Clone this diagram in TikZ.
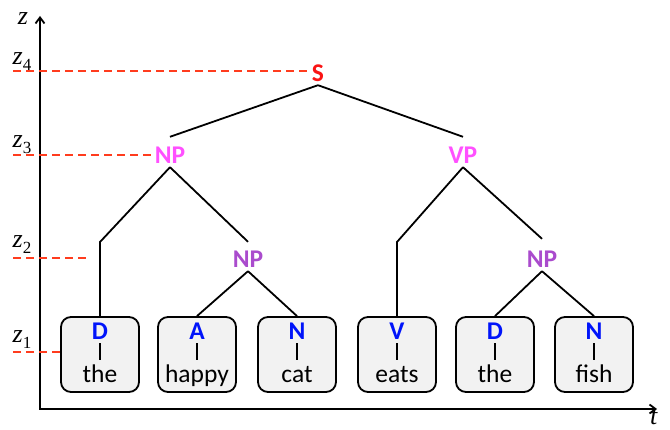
\documentclass[tikz,border=0pt]{standalone}
\usepackage{fontspec}
\setsansfont{Carlito}
\newfontfamily\zfont{Liberation Serif}
\usetikzlibrary{arrows.meta}

\definecolor{sred}{RGB}{250,20,20}
\definecolor{npmag}{RGB}{255,80,255}
\definecolor{nppur}{RGB}{170,75,205}
\definecolor{tagblue}{RGB}{0,20,250}
\definecolor{guidered}{RGB}{255,60,30}
\definecolor{boxgray}{RGB}{242,242,242}

\newcommand{\zlevel}[1]{\textit{z}\raisebox{-6pt}{\fontsize{17}{20}\selectfont #1}}

\tikzset{
  axis/.style={line width=1.8pt, {Straight Barb[length=6pt,width=9pt]}-{Straight Barb[length=6pt,width=9pt]}},
  leafbox/.style={draw, line width=1.8pt, rounded corners=10pt, fill=boxgray,
    minimum width=78pt, minimum height=75pt},
  tag/.style={font=\sffamily\fontsize{25.5}{28}\selectfont\bfseries, text=tagblue,
    inner sep=3.75pt, text height=16.5pt, text depth=0pt},
  word/.style={font=\sffamily\fontsize{25.5}{28}\selectfont,
    inner sep=4pt, text height=19pt, text depth=5.5pt},
  phrase/.style={font=\sffamily\fontsize{25.5}{28}\selectfont\bfseries,
    inner sep=3.75pt, text height=16.5pt, text depth=0pt},
  branch/.style={line width=1.8pt},
  stem/.style={line width=1.8pt},
  guide/.style={draw=guidered, line width=1.8pt, dash pattern=on 8pt off 5pt},
  zlabel/.style={font=\zfont\fontsize{26}{30}\selectfont, inner sep=0pt},
}

\begin{document}
\begin{tikzpicture}[x=1pt,y=-1pt]
\useasboundingbox (0,0) rectangle (670,430);

\coordinate (o) at (40,409);
\coordinate (ztip) at (40,16);
\coordinate (ttip) at (657,409);
\draw[axis] (ztip) -- (o) -- (ttip);
\node[zlabel] (zaxis) at (23,19) {\textit{z}};
\node[zlabel] (taxis) at (654,417) {\textit{t}};

\foreach \i/\x/\tg/\wrd in {1/100/D/the, 2/197/A/happy, 3/297/N/cat,
    4/397/V/eats, 5/495/D/the, 6/594/N/fish} {
  \node[leafbox] (box\i) at (\x,354.5) {};
  \node[tag] (tag\i) at (\x,331) {\tg};
  \node[word] (word\i) at (\x,376.25) {\wrd};
  \draw[stem] (tag\i) -- (word\i);
}

\node[phrase, text=sred] (s) at (318,73) {S};
\node[phrase, text=npmag] (np1) at (170,155) {NP};
\node[phrase, text=npmag] (vp) at (463,155) {VP};
\node[phrase, text=nppur] (np2) at (248,259) {NP};
\node[phrase, text=nppur] (np3) at (542,259) {NP};

\coordinate (k1) at (100,242);
\coordinate (k4) at (397,242);

\draw[branch] (s.south) -- ([yshift=6pt]np1.north);
\draw[branch] (s.south) -- ([yshift=6pt]vp.north);

\draw[branch] (np1.south) -- (k1) -- (box1.north);
\draw[branch] (np1.south) -- ([yshift=5pt]np2.north);
\draw[branch] (np2.south) -- (box2.north);
\draw[branch] (np2.south) -- (box3.north);

\draw[branch] (vp.south) -- (k4) -- (box4.north);
\draw[branch] (vp.south) -- ([yshift=8pt]np3.north);
\draw[branch] (np3.south) -- (box5.north);
\draw[branch] (np3.south) -- (box6.north);

\coordinate (g4) at (13,71);
\coordinate (g3) at (13,155);
\coordinate (g2) at (13,258);
\coordinate (g2e) at (90,258);
\coordinate (g1) at (13,352);
\draw[guide] (g4) -- (g4 -| s.west);
\draw[guide] (g3) -- (np1.west);
\draw[guide] (g2) -- (g2e);
\draw[guide] (g1) -- (g1 -| box1.west);

\node[zlabel] (z4) at (22,62) {\zlevel{4}};
\node[zlabel] (z3) at (22,145) {\zlevel{3}};
\node[zlabel] (z2) at (22,245) {\zlevel{2}};
\node[zlabel] (z1) at (22,340) {\zlevel{1}};
\end{tikzpicture}
\end{document}
